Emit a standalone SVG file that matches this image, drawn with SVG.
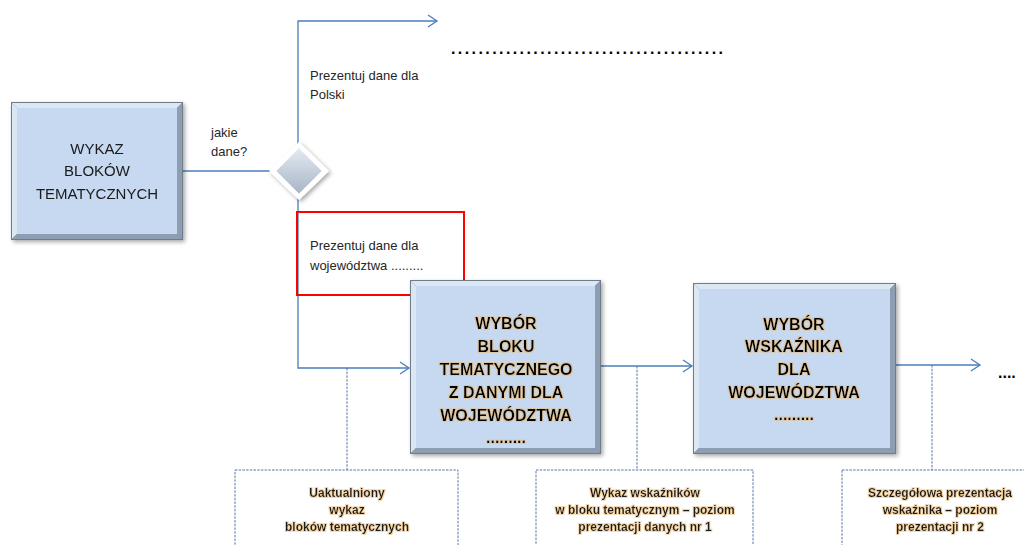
<svg xmlns="http://www.w3.org/2000/svg" width="1024" height="545" viewBox="0 0 1024 545">
<defs>
<style>
.conn{fill:none;stroke:#4a7ebb;stroke-width:1.3}
.dot{fill:none;stroke:#5877a6;stroke-width:1;stroke-dasharray:2.5,1.2}
.lbl{font-family:"Liberation Sans",Arial,sans-serif;font-size:13px;fill:#262626}
.big{font-family:"Liberation Sans",Arial,sans-serif;font-size:15px;fill:#1a1a1a;text-anchor:middle}
.bold{font-family:"Liberation Sans",Arial,sans-serif;font-size:16px;font-weight:bold;fill:#000;text-anchor:middle}
.sm{font-family:"Liberation Sans",Arial,sans-serif;font-size:12px;font-weight:bold;fill:#1a1a1a;text-anchor:middle}
.face{fill:#c6d9f1}
.edge{fill:#6e7b8c}
.lt{fill:#dce7f4}
.dk{fill:#8d9db2}
</style>
<marker id="arr" markerWidth="12" markerHeight="14" refX="10" refY="7" orient="auto" markerUnits="userSpaceOnUse">
<path d="M1,1 L10,7 L1,13" fill="none" stroke="#4a7ebb" stroke-width="1.3"/>
</marker>
<filter id="sh" x="-10%" y="-10%" width="125%" height="125%">
<feGaussianBlur in="SourceAlpha" stdDeviation="2"/>
<feOffset dx="2" dy="2"/>
<feComponentTransfer><feFuncA type="linear" slope="0.35"/></feComponentTransfer>
<feMerge><feMergeNode/><feMergeNode in="SourceGraphic"/></feMerge>
</filter>
<filter id="glow" x="-10%" y="-20%" width="120%" height="140%">
<feMorphology in="SourceAlpha" operator="dilate" radius="0.8" result="d"/>
<feGaussianBlur in="d" stdDeviation="0.7" result="b"/>
<feFlood flood-color="#e8b870" flood-opacity="0.55"/>
<feComposite in2="b" operator="in"/>
<feMerge><feMergeNode/><feMergeNode in="SourceGraphic"/></feMerge>
</filter>
<linearGradient id="dg" x1="0" y1="0" x2="0" y2="1">
<stop offset="0" stop-color="#e4eaf1"/>
<stop offset="1" stop-color="#a7b5c6"/>
</linearGradient>
</defs>

<g id="connectors">
<path class="conn" d="M183,171 H272"/>
<path class="conn" d="M298,146 V21 H437" marker-end="url(#arr)"/>
<path class="conn" d="M298,197 V368 H409" marker-end="url(#arr)"/>
<path class="conn" d="M601,366 H692" marker-end="url(#arr)"/>
<path class="conn" d="M896,365 H980" marker-end="url(#arr)"/>
<path class="dot" d="M347,368 V470"/>
<path class="dot" d="M637,366 V470"/>
<path class="dot" d="M932,365 V470"/>
</g>

<g id="wykaz" filter="url(#sh)">
<rect class="edge" x="11" y="102" width="172" height="138"/>
<polygon class="lt" points="12,103 182,103 177,108 17,108"/>
<polygon class="lt" points="12,103 17,108 17,234 12,239"/>
<polygon class="dk" points="182,103 182,239 177,234 177,108"/>
<polygon class="dk" points="12,239 182,239 177,234 17,234"/>
<rect class="face" x="17" y="108" width="160" height="126"/>
<text class="big" x="97" y="154">WYKAZ</text>
<text class="big" x="97" y="176">BLOKÓW</text>
<text class="big" x="97" y="199">TEMATYCZNYCH</text>
</g>

<g id="decyzja">
<polygon points="299,142 329,171 299,200 269,171" fill="#ffffff" filter="url(#sh)"/>
<polygon points="299,148 322,171 299,194 276,171" fill="url(#dg)" stroke="#f4f6f9" stroke-width="1"/>
</g>

<g id="lbl-jakie">
<text class="lbl" x="211" y="137">jakie</text>
<text class="lbl" x="211" y="156">dane?</text>
</g>

<g id="lbl-polski">
<text class="lbl" x="310" y="80">Prezentuj dane dla</text>
<text class="lbl" x="310" y="99">Polski</text>
</g>

<g id="dots-top">
<text x="451" y="54" font-family="Liberation Sans,Arial,sans-serif" font-size="16" font-weight="bold" fill="#000" textLength="272" lengthAdjust="spacing">........................................</text>
</g>

<g id="lbl-woj">
<rect x="297" y="212" width="167" height="83" fill="none" stroke="#ff0000" stroke-width="2"/>
<text class="lbl" x="310" y="250">Prezentuj dane dla</text>
<text class="lbl" x="310" y="270">województwa .........</text>
</g>

<g id="wybor-bloku" filter="url(#sh)">
<rect class="edge" x="410" y="280" width="191" height="174"/>
<polygon class="lt" points="411,281 600,281 595,286 416,286"/>
<polygon class="lt" points="411,281 416,286 416,448 411,453"/>
<polygon class="dk" points="600,281 600,453 595,448 595,286"/>
<polygon class="dk" points="411,453 600,453 595,448 416,448"/>
<rect class="face" x="416" y="286" width="179" height="162"/>
<g filter="url(#glow)">
<text class="bold" x="506" y="329">WYBÓR</text>
<text class="bold" x="506" y="352">BLOKU</text>
<text class="bold" x="506" y="375">TEMATYCZNEGO</text>
<text class="bold" x="506" y="398">Z DANYMI DLA</text>
<text class="bold" x="506" y="421">WOJEWÓDZTWA</text>
<text class="bold" x="506" y="443">.........</text>
</g>
</g>

<g id="wybor-wskaznika" filter="url(#sh)">
<rect class="edge" x="693" y="283" width="203" height="171"/>
<polygon class="lt" points="694,284 895,284 890,289 699,289"/>
<polygon class="lt" points="694,284 699,289 699,448 694,453"/>
<polygon class="dk" points="895,284 895,453 890,448 890,289"/>
<polygon class="dk" points="694,453 895,453 890,448 699,448"/>
<rect class="face" x="699" y="289" width="191" height="159"/>
<g filter="url(#glow)">
<text class="bold" x="794" y="330">WYBÓR</text>
<text class="bold" x="794" y="352">WSKAŹNIKA</text>
<text class="bold" x="794" y="375">DLA</text>
<text class="bold" x="794" y="398">WOJEWÓDZTWA</text>
<text class="bold" x="794" y="420">.........</text>
</g>
</g>

<g id="dots-right">
<text x="998" y="378" font-family="Liberation Sans,Arial,sans-serif" font-size="16" font-weight="bold" fill="#000">....</text>
</g>

<g id="wykaz-uakt">
<rect class="dot" x="235" y="470" width="223" height="90"/>
<g filter="url(#glow)">
<text class="sm" x="347" y="497">Uaktualniony</text>
<text class="sm" x="347" y="514">wykaz</text>
<text class="sm" x="347" y="531">bloków tematycznych</text>
</g>
</g>

<g id="wykaz-wsk">
<rect class="dot" x="536" y="470" width="217" height="90"/>
<g filter="url(#glow)">
<text class="sm" x="645" y="497">Wykaz wskaźników</text>
<text class="sm" x="645" y="514">w bloku tematycznym – poziom</text>
<text class="sm" x="645" y="531">prezentacji danych nr 1</text>
</g>
</g>

<g id="szczeg">
<rect class="dot" x="842" y="470" width="200" height="90"/>
<g filter="url(#glow)">
<text class="sm" x="940" y="497">Szczegółowa prezentacja</text>
<text class="sm" x="940" y="514">wskaźnika – poziom</text>
<text class="sm" x="940" y="531">prezentacji nr 2</text>
</g>
</g>
</svg>
